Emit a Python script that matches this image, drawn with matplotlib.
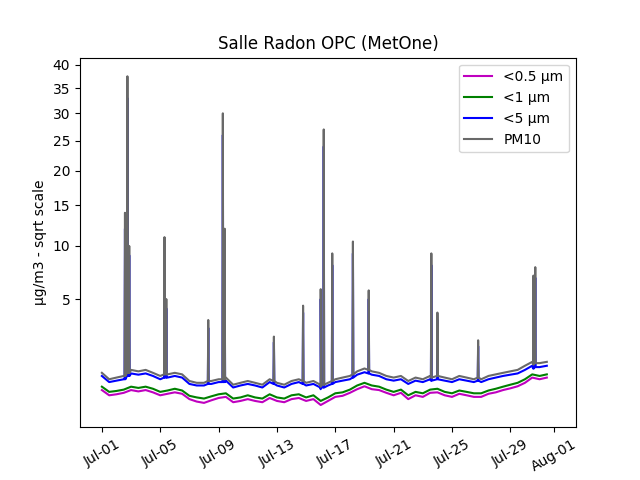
import numpy as np
import pandas as pd
import matplotlib.pyplot as plt
import matplotlib.dates as mdates

# twice-daily readings, Jul 01 00:00 .. Jul 31 12:00
times = pd.date_range("2023-07-01", periods=62, freq="12h")

pm10 = [0.9, 0.7, 0.75, 0.8, 1.0, 0.95, 1.0, 0.9, 0.8, 0.85, 0.9, 0.85,
        0.65, 0.6, 0.6, 0.65, 0.7, 0.75, 0.55, 0.6, 0.65, 0.6, 0.55, 0.7,
        0.6, 0.55, 0.65, 0.7, 0.6, 0.65, 0.5, 0.6, 0.7, 0.75, 0.8, 0.95,
        1.05, 0.95, 0.9, 0.8, 0.75, 0.8, 0.65, 0.75, 0.7, 0.8, 0.85, 0.75,
        0.7, 0.8, 0.75, 0.7, 0.7, 0.8, 0.85, 0.9, 0.95, 1.0, 1.15, 1.3,
        1.25, 1.3]
pm5 = [0.8, 0.62, 0.66, 0.7, 0.88, 0.84, 0.88, 0.8, 0.7, 0.75, 0.8, 0.75,
       0.57, 0.53, 0.53, 0.57, 0.62, 0.66, 0.48, 0.53, 0.57, 0.53, 0.48, 0.62,
       0.53, 0.48, 0.57, 0.62, 0.53, 0.57, 0.44, 0.53, 0.62, 0.66, 0.7, 0.84,
       0.92, 0.84, 0.8, 0.7, 0.66, 0.7, 0.57, 0.66, 0.62, 0.7, 0.75, 0.66,
       0.62, 0.7, 0.66, 0.62, 0.62, 0.7, 0.75, 0.8, 0.84, 0.88, 1.0, 1.15,
       1.1, 1.15]
pm1 = [0.5, 0.38, 0.4, 0.43, 0.5, 0.47, 0.5, 0.45, 0.38, 0.41, 0.45, 0.41,
       0.3, 0.27, 0.25, 0.29, 0.33, 0.35, 0.25, 0.27, 0.31, 0.27, 0.25, 0.33,
       0.27, 0.25, 0.31, 0.33, 0.27, 0.31, 0.21, 0.27, 0.35, 0.37, 0.43, 0.53,
       0.6, 0.53, 0.5, 0.43, 0.38, 0.43, 0.31, 0.38, 0.35, 0.43, 0.45, 0.38,
       0.35, 0.41, 0.38, 0.35, 0.35, 0.41, 0.45, 0.5, 0.55, 0.6, 0.7, 0.85,
       0.8, 0.85]
pm05 = [0.42, 0.31, 0.33, 0.36, 0.42, 0.39, 0.42, 0.37, 0.31, 0.34, 0.37, 0.34,
        0.24, 0.2, 0.18, 0.22, 0.26, 0.28, 0.19, 0.21, 0.24, 0.21, 0.19, 0.26,
        0.21, 0.19, 0.24, 0.26, 0.21, 0.24, 0.15, 0.21, 0.28, 0.3, 0.36, 0.44,
        0.51, 0.44, 0.42, 0.36, 0.31, 0.36, 0.24, 0.31, 0.28, 0.36, 0.37, 0.31,
        0.28, 0.34, 0.31, 0.28, 0.28, 0.34, 0.37, 0.42, 0.46, 0.51, 0.6, 0.75,
        0.7, 0.75]

# short spikes (PM10 and <5 µm), with the background level around each
spike_times = pd.to_datetime([
    "2023-07-02 14:00", "2023-07-02 18:00", "2023-07-02 21:00",
    "2023-07-05 07:00", "2023-07-05 10:00", "2023-07-08 07:00",
    "2023-07-09 07:00", "2023-07-09 10:00", "2023-07-12 19:00",
    "2023-07-14 19:00", "2023-07-16 00:00", "2023-07-16 05:00",
    "2023-07-16 19:00", "2023-07-18 05:00", "2023-07-19 07:00",
    "2023-07-23 14:00", "2023-07-24 00:00", "2023-07-26 19:00",
    "2023-07-30 14:00", "2023-07-30 17:00"])
spike_pm10 = [14, 37.5, 10, 11, 5, 3.5, 30, 12, 2.5, 4.5, 5.8, 27,
              9.2, 10.5, 5.7, 9.2, 4.0, 2.3, 7.0, 7.8]
spike_pm5 = [12, 33, 9, 9.5, 4.3, 3.0, 26, 10, 2.2, 4.0, 5.0, 24,
             8.0, 9.2, 5.0, 8.0, 3.5, 2.0, 6.2, 6.8]
spike_floor10 = [0.8, 0.9, 0.9, 0.85, 0.85, 0.65, 0.7, 0.7, 0.65, 0.65, 0.55, 0.55,
                 0.65, 0.85, 1.0, 0.75, 0.8, 0.75, 1.2, 1.25]
spike_floor5 = [0.7, 0.8, 0.8, 0.75, 0.75, 0.57, 0.62, 0.62, 0.57, 0.57, 0.48, 0.48,
                0.57, 0.75, 0.88, 0.66, 0.7, 0.66, 1.05, 1.1]


def merged(base, peaks, floors):
    dt = pd.Timedelta("40min")
    parts = [pd.Series(base, index=times),
             pd.Series(peaks, index=spike_times),
             pd.Series(floors, index=spike_times - dt),
             pd.Series(floors, index=spike_times + dt)]
    return pd.concat(parts).sort_index()


s10 = merged(pm10, spike_pm10, spike_floor10)
s5 = merged(pm5, spike_pm5, spike_floor5)

fig, ax = plt.subplots(figsize=(6.4, 4.8))
ax.set_yscale("function", functions=(lambda v: np.sqrt(np.clip(v, 0, None)), lambda v: v ** 2))
ax.plot(times, pm05, color="m", label="<0.5 µm")
ax.plot(times, pm1, color="g", label="<1 µm")
ax.plot(s5.index, s5.values, color="b", label="<5 µm")
ax.plot(s10.index, s10.values, color="dimgray", label="PM10")

ax.set_ylim(0, 41.6)
ax.set_yticks([5, 10, 15, 20, 25, 30, 35, 40])
ax.set_ylabel("µg/m3 - sqrt scale")
ax.set_title("Salle Radon OPC (MetOne)")
ax.set_xlim(pd.Timestamp("2023-06-29 12:00"), pd.Timestamp("2023-08-02 12:00"))
ax.xaxis.set_major_locator(mdates.DayLocator(bymonthday=[1, 5, 9, 13, 17, 21, 25, 29]))
ax.xaxis.set_major_formatter(mdates.DateFormatter("%b-%d"))
plt.setp(ax.get_xticklabels(), rotation=30)
ax.legend(loc="upper right")
plt.savefig("out.png", dpi=100)
